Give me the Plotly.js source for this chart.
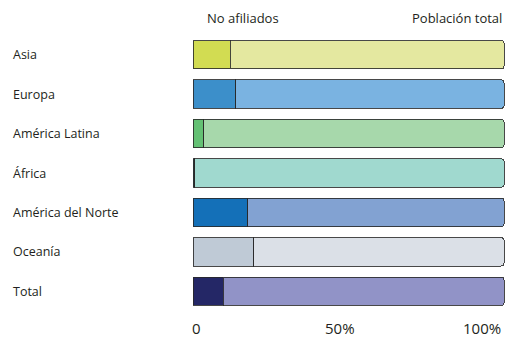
<!DOCTYPE html>
<html>
<head>
<meta charset="utf-8">
<script src="https://cdn.plot.ly/plotly-3.0.1.min.js"></script>
<style>html,body{margin:0;padding:0;background:#fff;}#chart{width:518px;height:338px;}</style>
</head>
<body>
<div id="chart"></div>
<script>
// Data
const regions = ["Asia", "Europa", "América Latina", "África", "América del Norte", "Oceanía", "Total"];
const noAfiliados = [12.0, 13.7, 3.5, 0.6, 17.6, 19.6, 9.8];   // % of population
const poblacionTotal = [100, 100, 100, 100, 100, 100, 100];   // %
const seriesNames = ["No afiliados", "Población total"];
const tickVals = [0, 50, 100];
const tickLabels = ["0", "50%", "100%"];

// Styles
const darkColors = ["#d2dc52", "#3c8fca", "#64c174", "#3f6e6a", "#1470b8", "#bfcad6", "#242766"];
const lightColors = ["#e4e8a0", "#7ab3e1", "#a7d8ab", "#a0d9cf", "#82a2d2", "#dbe0e7", "#9193c7"];
const outline = "rgba(40,40,40,0.85)";
const W = 518, H = 338;
const M = {l: 193, r: 13, t: 35, b: 27};
const plotW = W - M.l - M.r;
const FONT = "Open Sans, Noto Sans, sans-serif";
const TXT = "#231f20";

const rest = poblacionTotal.map((t, i) => t - noAfiliados[i]);

const traces = [
  {
    type: "bar", orientation: "h", name: seriesNames[0],
    y: regions, x: noAfiliados,
    marker: {color: darkColors, line: {color: outline, width: 1}, cornerradius: 3},
    width: 0.72, hoverinfo: "skip"
  },
  {
    type: "bar", orientation: "h", name: seriesNames[1],
    y: regions, x: rest,
    marker: {color: lightColors, line: {color: outline, width: 1}},
    width: 0.72, hoverinfo: "skip"
  }
];

const annotations = [];
regions.forEach((r) => {
  annotations.push({
    xref: "paper", yref: "y", x: (11 - M.l) / plotW, y: r,
    xanchor: "left", yanchor: "middle", showarrow: false,
    text: r, font: {family: FONT, size: 12.5, color: TXT}
  });
});
const anchors = ["left", "center", "right"];
const shifts = [-3, -9, -1];
tickVals.forEach((v, i) => {
  annotations.push({
    xref: "x", yref: "paper", x: v, y: 0, yshift: -17,
    xanchor: anchors[i], yanchor: "middle", xshift: shifts[i], showarrow: false,
    text: tickLabels[i], font: {family: FONT, size: 15, color: TXT}
  });
});
annotations.push({
  xref: "paper", yref: "paper", x: (205 - M.l) / plotW, y: 1, yshift: 17,
  xanchor: "left", yanchor: "middle", showarrow: false,
  text: seriesNames[0], font: {family: FONT, size: 13, color: TXT}
});
annotations.push({
  xref: "paper", yref: "paper", x: 1, xshift: -1, y: 1, yshift: 17,
  xanchor: "right", yanchor: "middle", showarrow: false,
  text: seriesNames[1], font: {family: FONT, size: 13, color: TXT}
});

const layout = {
  width: W, height: H,
  margin: M,
  paper_bgcolor: "#fff", plot_bgcolor: "#fff",
  barmode: "stack",
  showlegend: false,
  xaxis: {range: [0, 100.3], showgrid: false, zeroline: false, showticklabels: false, ticks: "", fixedrange: true},
  yaxis: {autorange: "reversed", showgrid: false, zeroline: false, showticklabels: false, ticks: "", fixedrange: true},
  annotations: annotations,
  font: {family: FONT, color: TXT}
};

Plotly.newPlot("chart", traces, layout, {displayModeBar: false, staticPlot: true});
</script>
</body>
</html>
